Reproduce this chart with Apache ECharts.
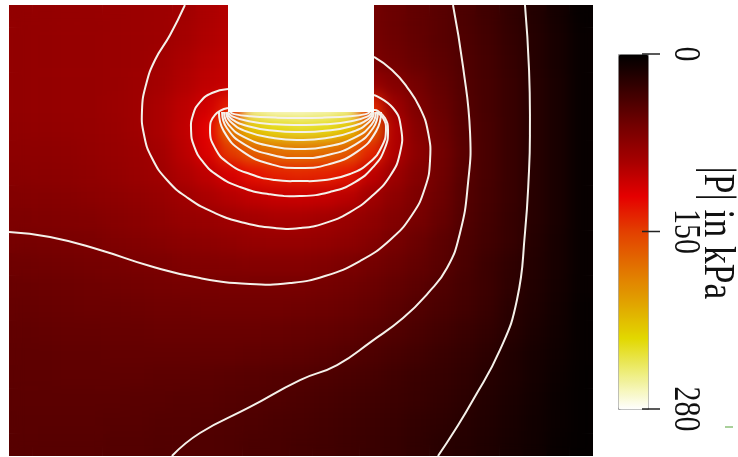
<!DOCTYPE html>
<html>
<head>
<meta charset="utf-8">
<script src="https://cdn.jsdelivr.net/npm/echarts@6/dist/echarts.min.js"></script>
<style>
html, body { margin: 0; padding: 0; background: #ffffff; }
#fieldWrap { position: absolute; left: 9px; top: 5px; width: 584px; height: 451px; overflow: hidden; }
#fieldBase, #fieldSoft { position: absolute; left: 0; top: 0; width: 584px; height: 451px; }
#fieldSoft { filter: blur(7px); }
#main { position: absolute; left: 0; top: 0; width: 738px; height: 457px; }
</style>
</head>
<body>
<div id="fieldWrap"><div id="fieldBase"></div><div id="fieldSoft"></div></div>
<div id="main"></div>
<script>
// ---- Data (lateral position x and depth z in mm, pressure |P| in kPa) ----
const xCentersMm = [-19.2,-17.6,-16.0,-14.4,-12.8,-11.2,-9.6,-8.0,-6.4,-4.8,-3.2,-1.6,0,1.6,3.2,4.8,6.4,8.0,9.6,11.2,12.8,14.4,16.0,17.6,19.2];
const zCentersMm = [0.775,2.325,3.875,5.425,6.975,8.525,10.075,11.625,13.175,14.725,16.275,17.825,19.375,20.925,22.475,24.025,25.575,27.125,28.675,30.225];

// |P| in kPa, one row per depth (top to bottom), one value per lateral cell (left to right)
// (cells behind the transducer are masked in the figure; their values are estimates)
const fieldKPa = [
  [73,74,75,76,77,78,79,81,86,90, 140,150,150,145,130, 56,52,47,43,37,31,24,17,10,3],
  [73,74,75,76,77,78,79,83,88,92, 160,170,170,165,150, 58,53,48,43,38,32,25,18,11,4],
  [73,74,75,76,77,78,81,86,92,96, 220,240,240,235,215, 61,56,50,45,39,33,26,18,11,4],
  [73,74,75,76,77,79,83,89,95,98, 245,262,262,258,240, 76,66,57,48,40,34,27,19,12,4],
  [73,74,75,76,78,80,86,94,103,125, 262,272,272,268,258, 130,79,62,51,41,34,27,19,12,4],
  [72,73,74,75,77,80,86,95,112,172, 215,228,233,229,215, 162,90,67,54,42,35,27,19,12,4],
  [70,71,72,74,76,78,83,93,108,138, 158,167,170,166,155, 128,89,70,56,43,35,27,19,12,4],
  [68,69,70,72,74,77,80,88,95,106, 119,126,129,127,121, 96,79,66,55,42,35,27,19,12,4],
  [65,66,67,69,71,73,76,80,86,91, 96,99,100,98,93, 81,71,62,53,41,34,27,19,12,4],
  [62,63,64,65,67,69,72,75,77,80, 83,85,85,82,77, 72,65,59,50,40,33,26,19,12,4],
  [58,59,60,61,63,65,67,69,71,73, 75,76,76,74,71, 66,59,52,45,38,32,26,18,11,4],
  [54,55,56,57,58,60,61,63,64,65, 66,66,66,64,61, 57,53,48,43,36,29,23,17,11,4],
  [51,52,53,54,55,56,57,58,58,59, 59,59,59,57,55, 52,48,44,39,34,29,22,16,10,4],
  [49,50,51,52,52,53,54,54,55,55, 55,55,54,53,51, 48,44,40,36,32,27,20,15,9,3],
  [47,48,49,49,50,50,51,51,51,51, 51,50,49,48,46, 43,40,36,32,28,24,19,13,8,3],
  [46,46,47,47,48,48,48,48,48,48, 47,46,45,43,41, 38,35,32,28,25,21,16,11,7,3],
  [45,45,46,46,46,46,45,45,44,43, 42,41,40,38,36, 34,31,28,26,23,19,15,10,6,2],
  [44,44,44,44,44,43,43,42,42,41, 40,39,37,35,33, 31,29,27,24,21,17,13,9,5,2],
  [43,43,43,43,42,42,41,41,40,39, 38,36,35,33,31, 29,27,24,22,19,16,12,8,5,2],
  [42,42,42,42,41,41,40,40,39,38, 36,35,33,32,30, 28,26,23,20,18,15,11,8,4,2]
];

// Iso-pressure contours [x mm, z mm]
const contour20 = [[15.34,0],[15.62,4.47],[15.68,8.94],[15.62,11.34],[15.34,15.67],[14.79,20.28],[13.63,23.71],[11.78,27.15],[10.55,29.21],[9.38,31.0]];
const contour40 = [[10.41,0],[11.10,4.26],[11.58,8.80],[11.44,12.24],[10.89,15.67],[10.0,18.08],[8.70,19.80],[6.99,21.52],[4.86,23.10],[2.47,24.75],[-0.07,25.78],[-3.49,27.63],[-6.92,29.42],[-8.84,31.0]];
const contour60 = [[-20.0,15.60],[-17.19,15.95],[-13.77,16.84],[-10.34,17.94],[-6.92,18.77],[-3.49,19.18],[-0.75,19.11],[1.64,18.63],[4.04,17.60],[6.10,16.15],[7.60,14.43],[8.49,12.58],[8.84,10.65],[8.70,8.73],[8.15,7.08],[7.26,5.64],[6.23,4.47],[5.0,3.57]];
const contour80 = [[-7.95,0],[-8.97,2.06],[-10.0,3.78],[-10.62,5.50],[-10.89,7.22],[-10.75,8.94],[-10.21,10.52],[-9.18,12.03],[-7.74,13.27],[-5.89,14.30],[-3.84,14.99],[-1.78,15.33],[-0.07,15.33],[1.64,14.99],[3.36,14.23],[4.86,13.13],[6.10,11.75],[6.78,10.17],[6.85,8.45],[6.30,7.08],[5.0,6.19]];
const contour100 = [[-5.0,5.77],[-6.10,6.05],[-6.92,6.67],[-7.40,7.56],[-7.53,8.59],[-7.33,9.69],[-6.71,10.79],[-5.68,11.75],[-4.18,12.51],[-2.26,12.99],[-0.07,13.13],[1.99,12.85],[3.70,12.17],[5.0,11.07],[5.75,9.83],[5.96,8.59],[5.75,7.77],[5.27,7.29],[5.0,7.22]];
const contour120 = [[-5.0,7.08],[-5.89,7.56],[-6.23,8.59],[-5.89,9.83],[-5.0,10.86],[-3.49,11.62],[-1.78,12.03],[-0.07,12.10],[1.64,12.03],[3.36,11.62],[4.73,10.79],[5.55,9.69],[5.82,8.59],[5.62,7.77],[5.14,7.36]];
const contour140 = [[-5.62,7.36],[-5.29,8.67],[-3.99,10.08],[-1.97,10.97],[-0.07,11.20],[1.83,10.97],[3.85,10.08],[5.15,8.67],[5.48,7.36]];
const contour160 = [[-5.41,7.36],[-5.09,8.44],[-3.85,9.59],[-1.90,10.33],[-0.07,10.52],[1.76,10.33],[3.71,9.59],[4.95,8.44],[5.27,7.36]];
const contour180 = [[-5.28,7.36],[-4.97,8.22],[-3.75,9.15],[-1.85,9.75],[-0.07,9.90],[1.71,9.75],[3.61,9.15],[4.83,8.22],[5.14,7.36]];
const contour200 = [[-5.14,7.36],[-4.84,8.01],[-3.65,8.72],[-1.80,9.16],[-0.07,9.28],[1.66,9.16],[3.51,8.72],[4.70,8.01],[5.0,7.36]];
const contour220 = [[-5.07,7.36],[-4.77,7.83],[-3.61,8.33],[-1.78,8.65],[-0.07,8.73],[1.64,8.65],[3.47,8.33],[4.63,7.83],[4.93,7.36]];
const contour240 = [[-5.0,7.36],[-4.70,7.66],[-3.56,7.99],[-1.76,8.20],[-0.07,8.25],[1.62,8.20],[3.42,7.99],[4.57,7.66],[4.86,7.36]];
const contour260 = [[-4.86,7.36],[-4.57,7.50],[-3.46,7.65],[-1.71,7.74],[-0.07,7.77],[1.57,7.74],[3.32,7.65],[4.43,7.50],[4.72,7.36]];
const contourLevels = [20,40,60,80,100,120,140,160,180,200,220,240,260];
const contourPaths = [contour20,contour40,contour60,contour80,contour100,contour120,contour140,contour160,contour180,contour200,contour220,contour240,contour260];

// Transducer (masked region)
const transducerX = [-5.0, 5.0];
const transducerDepth = 7.355;

// Colour bar
const colorbarTicks = [0, 150, 280];
const colorbarTitle = '|P| in kPa';
const pMin = 0, pMax = 280;
const colorStops = ['#000000','#3a0000','#730000','#a60000','#e50000','#e34000','#e27200','#e1a300','#e2d800','#eeee80','#ffffff'];

// ---- Field layers ----
function fieldOption() {
  const data = [];
  fieldKPa.forEach(function (row, j) { row.forEach(function (v, i) { data.push([i, j, v]); }); });
  return {
    animation: false,
    grid: { left: 0, right: 0, top: 0, bottom: 0 },
    xAxis: { type: 'category', data: xCentersMm.map(String), show: false },
    yAxis: { type: 'category', data: zCentersMm.map(String), inverse: true, show: false },
    visualMap: { type: 'continuous', show: false, min: pMin, max: pMax, inRange: { color: colorStops }, seriesIndex: 0 },
    series: [{ type: 'heatmap', data: data, silent: true, itemStyle: { borderWidth: 0 }, emphasis: { disabled: true } }]
  };
}
echarts.init(document.getElementById('fieldBase')).setOption(fieldOption());
echarts.init(document.getElementById('fieldSoft')).setOption(fieldOption());

// ---- Foreground: contours, transducer, colour bar ----
const plot = { left: 9, top: 5, width: 584, height: 451 };
const bar = { left: 618, top: 54, width: 30, height: 355 };

const series = [
  {
    // one data item per iso-pressure level; each is drawn as a smooth curve through its points
    type: 'custom', name: 'contours', silent: true, clip: true, z: 3,
    data: contourLevels.map(function (lv, k) { return [k, lv]; }),
    dimensions: ['idx', 'level'],
    encode: { x: -1, y: -1 },
    renderItem: function (params, api) {
      const path = contourPaths[api.value(0)];
      const pts = path.map(function (p) { return api.coord(p); });
      return { type: 'polyline', shape: { points: pts, smooth: 0.5 },
        style: { stroke: '#f5f1ea', lineWidth: 2, fill: null } };
    }
  },
  {
    type: 'custom', name: 'transducer', silent: true, clip: true, z: 6,
    data: [[transducerX[0], 0, transducerX[1], transducerDepth]],
    renderItem: function (params, api) {
      const p0 = api.coord([api.value(0), api.value(1)]);
      const p1 = api.coord([api.value(2), api.value(3)]);
      return { type: 'rect', shape: { x: p0[0], y: p0[1] - 2, width: p1[0] - p0[0], height: p1[1] - p0[1] + 2 }, style: { fill: '#ffffff' } };
    }
  }
];

const graphics = [];
colorbarTicks.forEach(function (t, k) {
  const y = bar.top + bar.height * k / (colorbarTicks.length - 1);
  graphics.push({ type: 'line', shape: { x1: 642, y1: y, x2: 660, y2: y }, style: { stroke: '#222', lineWidth: 1.5 }, z: 10 });
  graphics.push({ type: 'text', x: 685, y: y, rotation: -Math.PI / 2, scaleX: 0.81,
    style: { text: String(t), font: '37px "Liberation Serif", serif', fill: '#111', align: 'center', verticalAlign: 'middle' }, z: 10 });
});
graphics.push({ type: 'text', x: 717, y: 233, rotation: -Math.PI / 2, scaleX: 0.79,
  style: { text: colorbarTitle, font: '45px "Liberation Serif", serif', fill: '#111', align: 'center', verticalAlign: 'middle' }, z: 10 });
graphics.push({ type: 'line', shape: { x1: 725, y1: 427, x2: 733, y2: 427 }, style: { stroke: '#8cc07a', lineWidth: 1.5 }, z: 10 });

const main = echarts.init(document.getElementById('main'));
main.setOption({
  animation: false,
  backgroundColor: 'transparent',
  grid: { left: plot.left, top: plot.top, width: plot.width, height: plot.height },
  xAxis: { type: 'value', min: -20, max: 20, show: false },
  yAxis: { type: 'value', min: 0, max: 31, inverse: true, show: false },
  visualMap: {
    type: 'continuous', min: pMin, max: pMax, inverse: true, orient: 'vertical',
    left: bar.left, top: bar.top, itemWidth: bar.width, itemHeight: bar.height,
    padding: 0, calculable: false, hoverLink: false, text: null, seriesIndex: [],
    inRange: { color: colorStops }, borderColor: '#a0a0a0', borderWidth: 1,
    textStyle: { color: 'rgba(0,0,0,0)' }
  },
  series: series,
  graphic: graphics
});
</script>
</body>
</html>
